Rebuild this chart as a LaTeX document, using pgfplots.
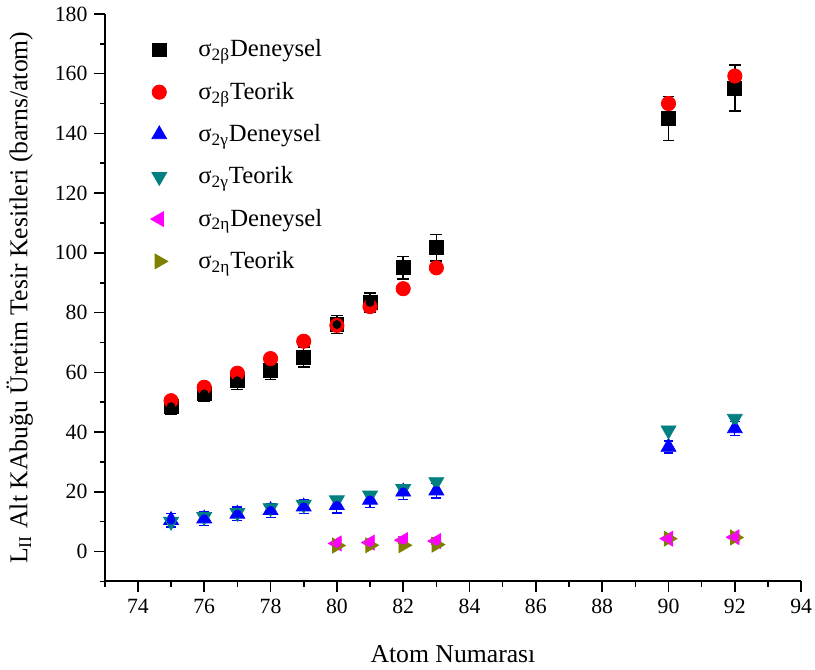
\documentclass[border=0pt]{standalone}
\usepackage{fontspec}
\setmainfont{Liberation Serif}
\usepackage{pgfplots}
\pgfplotsset{compat=1.18}
\usepackage{pgfplotstable}
\definecolor{myteal}{RGB}{0,128,128}
\definecolor{myolive}{RGB}{128,128,0}
\definecolor{mymagenta}{RGB}{255,0,255}
\definecolor{myred}{RGB}{255,0,0}
\definecolor{myblue}{RGB}{0,0,255}

\pgfplotstableread{
x y e
75 48.5 2.4
76 52.8 2.6
77 57.2 2.9
78 60.6 3.0
79 65.1 3.3
80 76.0 3.0
81 83.4 3.2
82 95.0 3.8
83 101.7 4.5
90 145.0 7.3
92 155.2 7.7
}\betaexp
\pgfplotstableread{
x y
75 50.5
76 55.0
77 59.7
78 64.6
79 70.4
80 75.7
81 82.0
82 88.0
83 95.0
90 150.0
92 159.2
}\betath
\pgfplotstableread{
x y e
75 10.5 2.3
76 11.0 2.3
77 12.6 2.3
78 13.8 2.3
79 15.0 2.3
80 15.5 2.6
81 17.3 2.6
82 20.0 2.5
83 20.4 2.5
90 35.0 2.0
92 41.2 2.4
}\gammaexp
\pgfplotstableread{
x y
75 10.0
76 11.6
77 13.0
78 14.6
79 15.7
80 17.2
81 18.8
82 21.0
83 23.3
90 40.6
92 44.5
}\gammath
\pgfplotstableread{
x y e
80 2.7 1.0
81 3.0 1.0
82 3.8 1.2
83 3.5 1.0
90 4.3 1.0
92 4.8 1.0
}\etaexp
\pgfplotstableread{
x y
80 2.0
81 2.1
82 2.1
83 2.3
90 4.3
92 4.7
}\etath

\begin{document}
\begin{tikzpicture}
\begin{axis}[
  scale only axis, width=351bp, height=286bp,
  xmin=73, xmax=94, ymin=-10, ymax=180,
  axis lines*=left, axis line style={line width=1bp},
  tick align=outside, tick style={black, line width=0.8bp},
  major tick length=5.2bp, minor tick length=2.6bp,
  xtick={74,76,...,94}, minor xtick={73,75,...,93},
  ytick={0,20,...,180}, minor ytick={-10,10,...,170},
  /pgf/number format/assume math mode=true,
  xticklabel={\pgfmathprintnumber{\tick}},
  yticklabel={\pgfmathprintnumber{\tick}},
  ticklabel style={font=\fontsize{11}{13}\selectfont},
  xticklabel style={inner xsep=1.5bp},
  xlabel={Atom Numarası},
  ylabel={L\textsubscript{II} Alt KAbuğu Üretim Tesir Kesitleri (barns/atom)},
  label style={font=\fontsize{13}{15}\selectfont},
  xlabel style={at={(axis description cs:0.5,-0.129)}, anchor=center},
  ylabel style={at={(axis description cs:-0.122,0.5)}, anchor=center},
  legend style={draw=none, fill=none, at={(axis description cs:0.057,0.969)}, anchor=north west,
    font=\fontsize{12.5}{14}\selectfont, row sep=7.2bp},
  legend cell align=left,
  legend image code/.code={\draw[#1] plot coordinates {(0bp,0bp)}; \path (0bp,0bp) (17.5bp,0bp);},
]
\addplot[only marks, mark=square*, mark size=3.5bp, black] table[x=x,y=y]{\betaexp};
\addlegendentry{σ\textsubscript{2β}Deneysel}
\addplot[only marks, mark=*, mark size=3.6bp, myred, mark options={fill=myred, draw=myred}] table[x=x,y=y]{\betath};
\addlegendentry{σ\textsubscript{2β}Teorik}
\addplot[only marks, mark=triangle*, mark size=4.3bp, myblue, mark options={fill=myblue, draw=myblue}] table[x=x,y=y]{\gammaexp};
\addlegendentry{σ\textsubscript{2γ}Deneysel}
\addplot[only marks, mark=triangle*, mark size=4.3bp, myteal, mark options={rotate=180, fill=myteal, draw=myteal}] table[x=x,y=y]{\gammath};
\addlegendentry{σ\textsubscript{2γ}Teorik}
\addplot[only marks, mark=triangle*, mark size=4.3bp, mymagenta, mark options={rotate=90, fill=mymagenta, draw=mymagenta}] table[x=x,y=y]{\etaexp};
\addlegendentry{σ\textsubscript{2η}Deneysel}
\addplot[only marks, mark=triangle*, mark size=4.3bp, myolive, mark options={rotate=-90, fill=myolive, draw=myolive}] table[x=x,y=y]{\etath};
\addlegendentry{σ\textsubscript{2η}Teorik}
% error bars on top
\addplot[forget plot, only marks, mark=none, black,
  error bars/.cd, y dir=both, y explicit, error mark=-,
  error bar style={line width=0.75bp, black},
  error mark options={rotate=90, mark size=3bp, line width=0.75bp, black}] table[x=x,y=y,y error=e]{\betaexp};
\addplot[forget plot, only marks, mark=none, myblue,
  error bars/.cd, y dir=both, y explicit, error mark=-,
  error bar style={line width=0.6bp, myblue},
  error mark options={rotate=90, mark size=2.5bp, line width=0.6bp, myblue}] table[x=x,y=y,y error=e]{\gammaexp};
\addplot[forget plot, only marks, mark=none, mymagenta,
  error bars/.cd, y dir=both, y explicit, error mark=-,
  error bar style={line width=0.6bp, mymagenta},
  error mark options={rotate=90, mark size=2.5bp, line width=0.6bp, mymagenta}] table[x=x,y=y,y error=e]{\etaexp};
\end{axis}
\end{tikzpicture}
\end{document}
